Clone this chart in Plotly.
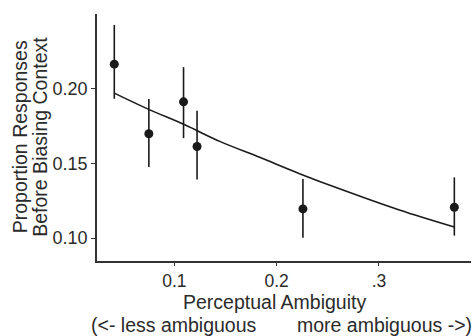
import plotly.graph_objects as go

# Observed points
amb_x = [0.0413, 0.0751, 0.1090, 0.1222, 0.2257, 0.3737]
prop_y = [0.2165, 0.1699, 0.1913, 0.1614, 0.1196, 0.1207]
err_hi = [0.2428, 0.1931, 0.2145, 0.1853, 0.1396, 0.1407]
err_lo = [0.1933, 0.1477, 0.1670, 0.1392, 0.1002, 0.1017]

# Fitted curve
fit_x = [0.0413, 0.0744, 0.1102, 0.1444, 0.1834, 0.2224, 0.2615, 0.3200, 0.3737]
fit_y = [0.1971, 0.1864, 0.1759, 0.1648, 0.1541, 0.1432, 0.1330, 0.1188, 0.1074]

x_tickvals = [0.1, 0.2, 0.3]
x_ticktext = ["0.1", "0.2", ".3"]
y_tickvals = [0.10, 0.15, 0.20]
y_ticktext = ["0.10", "0.15", "0.20"]

ink = "#1a1a1a"
txt = "#2b2b2b"
font = "Liberation Sans, Arial, sans-serif"

fig = go.Figure()
fig.add_trace(go.Scatter(
    x=fit_x, y=fit_y, mode="lines",
    line=dict(color=ink, width=1.6, shape="spline"),
    hoverinfo="skip", showlegend=False))
fig.add_trace(go.Scatter(
    x=amb_x, y=prop_y, mode="markers",
    marker=dict(color=ink, size=9),
    error_y=dict(type="data", symmetric=False,
                 array=[h - y for h, y in zip(err_hi, prop_y)],
                 arrayminus=[y - l for l, y in zip(err_lo, prop_y)],
                 width=0, thickness=1.6, color=ink),
    showlegend=False))

L, T, B = 97, 14, 74.5
title_size = 19.5


def ann(text, xs, ys, xanchor="center", angle=0):
    return dict(text=text, xref="paper", yref="paper", x=0, y=0,
                xanchor=xanchor, yanchor="middle", xshift=xs, yshift=ys,
                textangle=angle, showarrow=False,
                font=dict(size=title_size, color=txt))


plot_bottom = 336 - B
plot_mid_y = (T + plot_bottom) / 2
fig.update_layout(
    width=472, height=336,
    margin=dict(l=L, r=1, t=T, b=B, pad=0),
    paper_bgcolor="white", plot_bgcolor="white",
    font=dict(family=font, color=txt, size=18),
    xaxis=dict(range=[0.0244, 0.39], tickvals=x_tickvals, ticktext=x_ticktext,
               showgrid=False, zeroline=False, showline=True, linecolor="#333",
               linewidth=1.5, ticks="outside", ticklen=3, tickwidth=1.2,
               tickcolor="#333", tickfont=dict(size=17.5, color=txt)),
    yaxis=dict(range=[0.0847, 0.2501], tickvals=y_tickvals, ticktext=y_ticktext,
               showgrid=False, zeroline=False, showline=True, linecolor="#333",
               linewidth=1.5, ticks="outside", ticklen=4, tickwidth=1.2,
               tickcolor="#333", tickfont=dict(size=18, color=txt)),
    annotations=[
        ann("Perceptual Ambiguity", 274.3 - L, plot_bottom - 302),
        ann("(<- less ambiguous", 89 - L, plot_bottom - 325, xanchor="left"),
        ann("more ambiguous ->)", 295 - L, plot_bottom - 325, xanchor="left"),
        ann("Proportion Responses", 20 - L, plot_bottom - plot_mid_y, angle=-90),
        ann("Before Biasing Context", 40.5 - L, plot_bottom - plot_mid_y, angle=-90),
    ],
)

fig.write_html("out.html",
               config={"displayModeBar": False},
               post_script="document.body.style.margin='0';"
                           "document.body.style.overflow='hidden';")
